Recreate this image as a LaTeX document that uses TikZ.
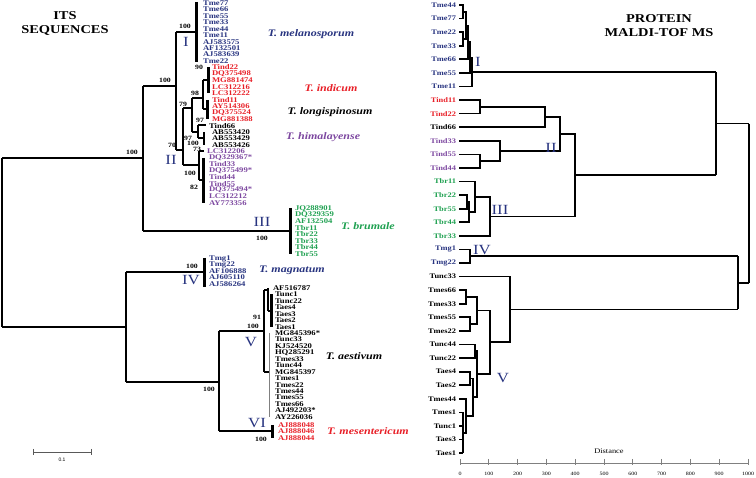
\documentclass[tikz,border=0pt]{standalone}
\usepackage{fontspec}
\setmainfont{Liberation Serif}[FakeStretch=1.2]
\newfontfamily\sanslab{Liberation Sans}
\definecolor{navy}{RGB}{40,52,128}
\definecolor{tred}{RGB}{232,32,40}
\definecolor{tpur}{RGB}{125,72,160}
\definecolor{tgrn}{RGB}{30,160,80}
\begin{document}
\begin{tikzpicture}[x=1pt,y=-1pt,line width=2pt,
  lab/.style={font=\fontsize{7.2}{7.5}\selectfont\bfseries,anchor=west,inner sep=0pt},
  rlab/.style={font=\fontsize{7}{8}\selectfont\bfseries,anchor=east,inner sep=0pt},
  bs/.style={font=\fontsize{6.5}{7}\selectfont\bfseries,inner sep=0pt},
  rnum/.style={font=\fontsize{14}{14}\selectfont,text=navy,inner sep=0pt},
  sp/.style={font=\fontsize{10}{10}\selectfont\bfseries\itshape,inner sep=0pt},
  ttl/.style={font=\fontsize{12}{14}\selectfont\bfseries,align=center,inner sep=0pt},
  thick cl/.style={line width=3pt},
  thin/.style={line width=0.9pt}]
\useasboundingbox (0,0) rectangle (756,478);
% titles
\node[ttl] (t1) at (65,24) {ITS\\SEQUENCES};
\node[ttl] (t2) at (659,26) {PROTEIN\\MALDI-TOF MS};
% ---------------- left tree -----------------
\foreach \t [count=\i from 0] in {Tme77,Tme66,Tme55,Tme33,Tme44,Tme11,AJ583575,AF132501,AJ583639,Tme22}
  \node[lab,text=navy] (m\i) at (202,{3+6.45*\i}) {\t};
\foreach \t [count=\i from 10] in {Tind22,DQ375498,MG881474,LC312216,LC312222,Tind11,AY514306,DQ375524,MG881388}
  \node[lab,text=tred] (r\i) at (211,{3+6.45*\i}) {\t};
\node[lab] (k19) at (208,{3+6.45*19}) {Tind66};
\foreach \t [count=\i from 20] in {AB553420,AB553429,AB553426}
  \node[lab] (k\i) at (211,{3+6.45*\i}) {\t};
\node[lab,text=tpur] (p23) at (206,{3+6.45*23}) {LC312206};
\foreach \t [count=\i from 24] in {DQ329367*,Tind33,DQ375499*,Tind44,Tind55,DQ375494*,LC312212,AY773356}
  \node[lab,text=tpur] (p\i) at (208,{3+6.45*\i}) {\t};
\foreach \t [count=\i from 0] in {JQ288901,DQ329359,AF132504,Tbr11,Tbr22,Tbr33,Tbr44,Tbr55}
  \node[lab,text=tgrn] (g\i) at (294,{208.4+6.45*\i}) {\t};
\foreach \t [count=\i from 0] in {Tmg1,Tmg22,AF106888,AJ605110,AJ586264}
  \node[lab,text=navy] (n\i) at (208,{259+6.2*\i}) {\t};
\node[lab] (v0) at (272,288) {AF516787};
\foreach \t [count=\i from 1] in {Tunc1,Tunc22,Taes4,Taes3,Taes2,Taes1,MG845396*,Tunc33,KJ524520,HQ285291,Tmes33,Tunc44,MG845397,Tmes1,Tmes22,Tmes44,Tmes55,Tmes66,AJ492203*,AY226036}
  \node[lab] (v\i) at (274,{288+6.45*\i}) {\t};
\foreach \t [count=\i from 0] in {AJ888048,AJ888046,AJ888044}
  \node[lab,text=tred] (w\i) at (277,{425+6.5*\i}) {\t};
% species
\node[sp,text=navy] (s1) at (311,34) {T. melanosporum};
\node[sp,text=tred] (s2) at (331,88) {T. indicum};
\node[sp] (s3) at (330,112) {T. longispinosum};
\node[sp,text=tpur] (s4) at (323,137) {T. himalayense};
\node[sp,text=tgrn] (s5) at (368,226) {T. brumale};
\node[sp,text=navy] (s6) at (292,270) {T. magnatum};
\node[sp] (s7) at (354,356) {T. aestivum};
\node[sp,text=tred] (s8) at (368,431) {T. mesentericum};
% branches
\draw (2,158) -- (2,327);
\draw (2,158) -- (143,158);
\draw (143,86) -- (143,231);
\draw (143,86) -- (176,86);
\draw (143,231) -- (290,231);
\draw[thick cl] (290,208) -- (290,254);
\draw (176,32) -- (176,150);
\draw (176,32) -- (196,32);
\draw[thick cl] (196,2) -- (196,62);
% red
\draw[thick cl] (208,67.5) -- (208,93.3);
\draw[thick cl] (207,99.8) -- (207,119.1);
\draw (203,80.4) -- (203,109.4);
\draw (203,80.4) -- (208,80.4) (203,109.4) -- (207,109.4);
% black
\draw (204,132) -- (204,144.9);
\draw (198,125.5) -- (198,138.4);
\draw (198,125.5) -- (206,125.5) (198,138.4) -- (204,138.4);
\draw (192,98) -- (192,132);
\draw (192,98) -- (203,98) (192,132) -- (198,132);
% purple
\draw[thick cl] (203,157.8) -- (203,203);
\draw (199,151.3) -- (199,180.4);
\draw (199,151.3) -- (204,151.3) (199,180.4) -- (203,180.4);
\draw (183,108) -- (183,165);
\draw (183,108) -- (192,108) (183,165) -- (199,165);
\draw (176,150) -- (183,150);
% lower part
\draw (2,327) -- (126,327);
\draw (126,272) -- (126,382);
\draw (126,272) -- (204,272);
\draw[thick cl] (204,258) -- (204,287);
\draw (126,382) -- (219,382);
\draw (219,331) -- (219,431);
\draw (219,331) -- (264,331);
\draw (264,290) -- (264,372);
\draw (264,290) -- (268,290);
\draw (268,288) -- (268,310.6);
\draw[thick cl] (271,294.5) -- (271,326.7);
\draw (268,310.6) -- (271,310.6);
\draw (264,372) -- (269,372);
\draw[thin,gray] (269,333) -- (269,417);
\draw (219,431) -- (272,431);
\draw[thick cl] (272,425) -- (272,438);
% bootstrap values
\node[bs] (b1) at (132,152) {100};
\node[bs] (b2) at (165,80) {100};
\node[bs] (b3) at (185,26) {100};
\node[bs] (b4) at (199,67.5) {90};
\node[bs] (b5) at (195,93) {98};
\node[bs] (b6) at (183,104) {79};
\node[bs] (b7) at (200,120) {97};
\node[bs] (b8) at (188,138) {97};
\node[bs] (b9) at (193,143) {100};
\node[bs] (b10) at (197,149) {73};
\node[bs] (b11) at (172,145) {70};
\node[bs] (b12) at (190,173) {100};
\node[bs] (b13) at (194,187) {82};
\node[bs] (b14) at (262,238) {100};
\node[bs] (b15) at (192,266) {100};
\node[bs] (b16) at (257,317) {91};
\node[bs] (b17) at (253,326) {100};
\node[bs] (b18) at (209,389) {100};
\node[bs] (b19) at (261,439) {100};
% roman numerals
\node[rnum] (nI) at (186,42) {I};
\node[rnum] (nII) at (171,160) {II};
\node[rnum] (nIII) at (262,222) {III};
\node[rnum] (nIV) at (191,280) {IV};
\node[rnum] (nV) at (251,342) {V};
\node[rnum] (nVI) at (257,423) {VI};
% scale bar
\draw[thin,gray!70!black] (33,452) -- (91,452) (33,449) -- (33,455) (91,449) -- (91,455);
\node[font=\sanslab\fontsize{5}{6}\selectfont,inner sep=0pt] (sb) at (62,460) {0.1};
% ---------------- right tree -----------------
\foreach \t [count=\i from 0] in {Tme44,Tme77,Tme22,Tme33,Tme66,Tme55,Tme11}
  \node[rlab,text=navy] (q\i) at (457,{5+13.58*\i}) {\t};
\foreach \t [count=\i from 7] in {Tind11,Tind22}
  \node[rlab,text=tred] (q\i) at (457,{5+13.58*\i}) {\t};
\node[rlab] (q9) at (457,{5+13.58*9}) {Tind66};
\foreach \t [count=\i from 10] in {Tind33,Tind55,Tind44}
  \node[rlab,text=tpur] (q\i) at (457,{5+13.58*\i}) {\t};
\foreach \t [count=\i from 13] in {Tbr11,Tbr22,Tbr55,Tbr44,Tbr33}
  \node[rlab,text=tgrn] (q\i) at (457,{5+13.58*\i}) {\t};
\foreach \t [count=\i from 18] in {Tmg1,Tmg22}
  \node[rlab,text=navy] (q\i) at (457,{5+13.58*\i}) {\t};
\foreach \t [count=\i from 20] in {Tunc33,Tmes66,Tmes33,Tmes55,Tmes22,Tunc44,Tunc22,Taes4,Taes2,Tmes44,Tmes1,Tunc1,Taes3,Taes1}
  \node[rlab] (q\i) at (457,{5+13.58*\i}) {\t};
\begin{scope}[line width=1.7pt]
% I
\draw (459,5) -- (463,5) -- (463,18.6) -- (459,18.6);
\draw (459,32.2) -- (463,32.2) -- (463,45.7) -- (459,45.7);
\draw (463,11.8) -- (466,11.8) -- (466,39) -- (463,39);
\draw (466,25.4) -- (468,25.4) -- (468,59.3) -- (459,59.3);
\draw (468,42.3) -- (470,42.3) -- (470,72.9) -- (459,72.9);
\draw (470,57.6) -- (472,57.6) -- (472,86.5) -- (459,86.5);
\draw (472,72) -- (716,72);
% II
\draw (459,100.1) -- (480,100.1) -- (480,113.6) -- (459,113.6);
\draw (459,154.4) -- (480,154.4) -- (480,168) -- (459,168);
\draw (480,106.9) -- (545,106.9) -- (545,127.2) -- (459,127.2);
\draw (459,140.8) -- (500,140.8) -- (500,161.2) -- (480,161.2);
\draw (545,117) -- (560,117) -- (560,151) -- (500,151);
% III
\draw (459,195.1) -- (467,195.1) -- (467,208.7) -- (459,208.7);
\draw (467,201.9) -- (469,201.9) -- (469,222.3) -- (459,222.3);
\draw (459,181.5) -- (475,181.5) -- (475,212.1) -- (469,212.1);
\draw (475,196.8) -- (490,196.8) -- (490,235.9) -- (459,235.9);
\draw (560,134) -- (575,134) -- (575,216.4) -- (490,216.4);
\draw (575,175.2) -- (716,175.2);
\draw (716,72) -- (716,175.2);
\draw (716,123.6) -- (749,123.6);
% IV
\draw (459,249.4) -- (470,249.4) -- (470,263) -- (459,263);
\draw (470,256.2) -- (738,256.2);
% V
\draw (459,290.2) -- (466,290.2) -- (466,303.8) -- (459,303.8);
\draw (459,317.3) -- (470,317.3) -- (470,330.9) -- (459,330.9);
\draw (466,297) -- (477,297) -- (477,324.1) -- (470,324.1);
\draw (459,344.5) -- (475,344.5) -- (475,358.1) -- (459,358.1);
\draw (459,371.7) -- (470,371.7) -- (470,385.2) -- (459,385.2);
\draw (459,412.4) -- (463,412.4) (459,426) -- (463,426) (459,439.6) -- (463,439.6) (459,453.2) -- (463,453.2);
\draw[line width=2.6pt] (463,412.4) -- (463,453.2);
\draw (463,432.8) -- (466,432.8) -- (466,398.8) -- (459,398.8);
\draw (466,415.8) -- (473,415.8) -- (473,378.5) -- (470,378.5);
\draw (473,397) -- (477,397) -- (477,351.3) -- (475,351.3);
\draw (477,374) -- (490,374) -- (490,310.6) -- (477,310.6);
\draw (490,342.3) -- (510,342.3) -- (510,276.6) -- (459,276.6);
\draw (510,309.5) -- (738,309.5);
\draw (738,256.2) -- (738,309.5);
\draw (738,282.9) -- (749,282.9);
\draw (749,123.6) -- (749,282.9);
\end{scope}
\node[rnum] (rI) at (478,62) {I};
\node[rnum] (rII) at (551,148) {II};
\node[rnum] (rIII) at (500,210) {III};
\node[rnum] (rIV) at (482,250) {IV};
\node[rnum] (rV) at (503,378) {V};
% axis
\node[font=\fontsize{7}{8}\selectfont,inner sep=0pt] (dist) at (609,451) {Distance};
\draw[thin,gray] (460,463) -- (748,463);
\foreach \v [count=\k from 0] in {0,100,200,300,400,500,600,700,800,900,1000}{
  \draw[thin,gray] ({460+28.8*\k},459) -- ({460+28.8*\k},465);
  \node[font=\fontsize{5}{6}\selectfont,inner sep=0pt] (ax\k) at ({460+28.8*\k},474) {\v};
}
\end{tikzpicture}
\end{document}
